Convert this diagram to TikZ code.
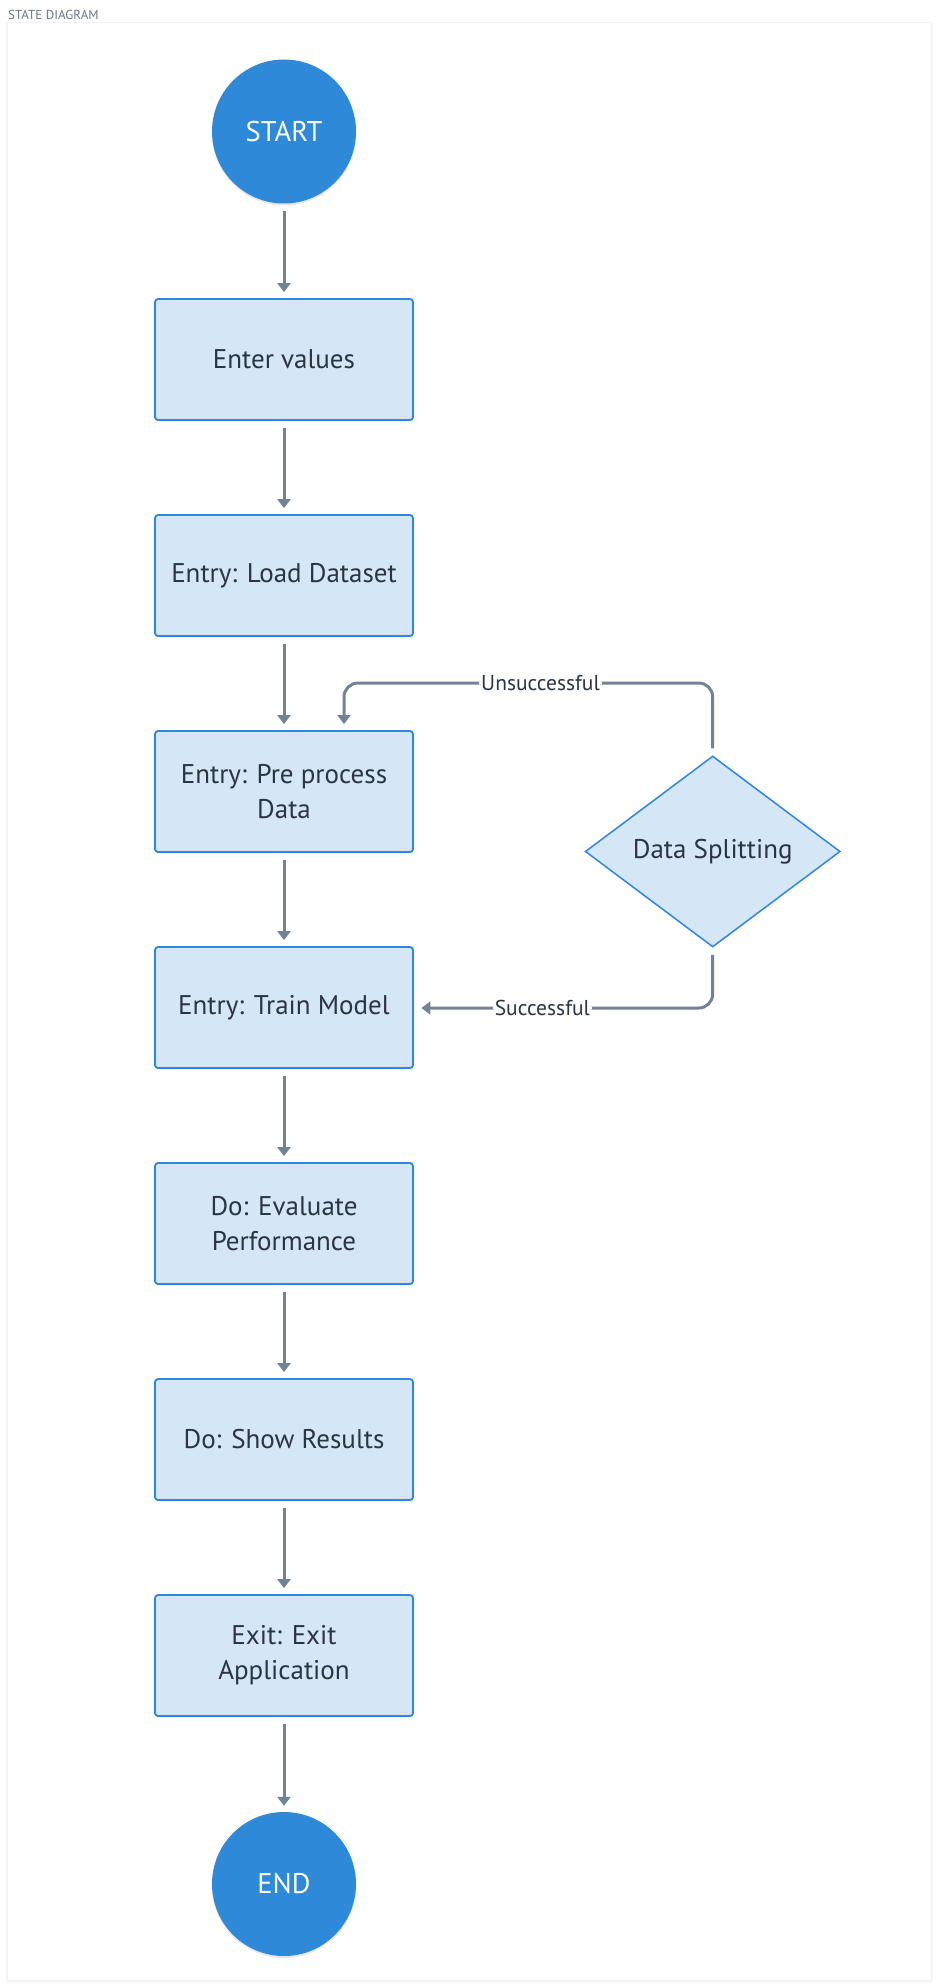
\documentclass[tikz,border=0pt]{standalone}
\usepackage{fontspec}
\setmainfont{PT Sans}
\usetikzlibrary{shapes.geometric,arrows.meta,shadows}
\definecolor{circ}{HTML}{2E89D9}
\definecolor{boxfill}{HTML}{D5E6F6}
\definecolor{boxline}{HTML}{2E86DE}
\definecolor{arr}{HTML}{738396}
\definecolor{txt}{HTML}{2A3444}
\definecolor{ttl}{HTML}{6B7785}
\begin{document}
\begin{tikzpicture}[x=1pt,y=-1pt,
  term/.style={circle, fill=circ, minimum size=144pt, inner sep=0pt, text=white,
    font=\fontsize{28.5}{30}\selectfont,
    drop shadow={opacity=0.18, shadow xshift=0pt, shadow yshift=-2pt}},
  state/.style={draw=boxline, line width=1.8pt, fill=boxfill, rounded corners=3pt,
    minimum width=258pt, minimum height=121pt, inner sep=0pt, align=center,
    text=txt, font=\fontsize{27}{35}\selectfont},
  dec/.style={diamond, draw=boxline, line width=1.5pt, fill=boxfill,
    minimum width=255pt, minimum height=191pt, inner sep=0pt, text=txt,
    font=\fontsize{27}{30}\selectfont},
  flow/.style={draw=arr, line width=3pt, -{Triangle[width=13pt,length=9pt]},
    shorten <=7pt, shorten >=6pt},
  lbl/.style={fill=white, text=txt, font=\fontsize{21.5}{24}\selectfont, inner sep=2pt}
]
\useasboundingbox (0,0) rectangle (940,1988);
\fill[white] (0,0) rectangle (940,1988);
\node[anchor=west, text=ttl, font=\fontsize{13}{14}\selectfont, inner sep=0pt] (title) at (8,15) {STATE DIAGRAM};
\draw[black!3, line width=3pt] (7,24) rectangle (931,1981);
\draw[black!5, fill=white, line width=1pt] (7,23) rectangle (931,1980);

\node[term] (start) at (284,131.5) {START};
\node[state] (enter) at (284,359.5) {Enter values};
\node[state] (load) at (284,575.5) {Entry: Load Dataset};
\node[state] (pre) at (284,791.5) {Entry: Pre process\\Data};
\node[state] (train) at (284,1007.5) {Entry: Train Model};
\node[state] (eval) at (284,1223.5) {Do: Evaluate\\Performance};
\node[state] (show) at (284,1439.5) {Do: Show Results};
\node[state] (exit) at (284,1655.5) {Exit: Exit\\Application};
\node[term] (fin) at (284,1884) {END};
\node[dec] (split) at (712.7,851.5) {Data Splitting};

\draw[flow] (start) -- (enter);
\draw[flow] (enter) -- (load);
\draw[flow] (load) -- (pre);
\draw[flow] (pre) -- (train);
\draw[flow] (train) -- (eval);
\draw[flow] (eval) -- (show);
\draw[flow] (show) -- (exit);
\draw[flow] (exit) -- (fin);

\coordinate (u) at (344,683);
\coordinate (s) at (712.7,1008);
\draw[flow, rounded corners=14pt] (split.north) -- (split.north |- u)
  -- node[lbl, pos=0.467] {Unsuccessful} (u) -- (pre.north -| u);
\draw[flow, rounded corners=14pt, shorten >=7.5pt] (split.south) -- (split.south |- s)
  -- node[lbl, pos=0.57] {Successful} (train.east |- s);
\end{tikzpicture}
\end{document}
